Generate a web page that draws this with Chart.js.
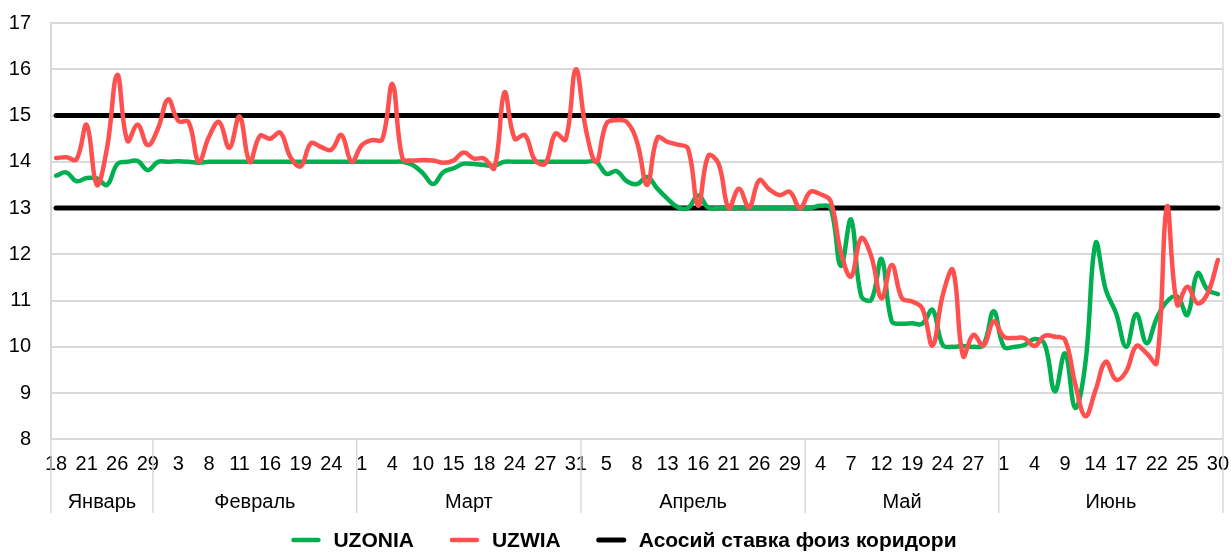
<!DOCTYPE html>
<html lang="ru">
<head>
<meta charset="utf-8">
<title>UZONIA / UZWIA</title>
<script src="https://cdn.jsdelivr.net/npm/chart.js"></script>
<style>
  html, body { margin: 0; padding: 0; background: #fff; }
  #wrap { position: relative; width: 1231px; height: 552px; }
</style>
</head>
<body>
<div id="wrap"><canvas id="rateChart"></canvas></div>
<script>
// Category axis: business days, grouped by month
const months = ['Январь', 'Февраль', 'Март', 'Апрель', 'Май', 'Июнь'];
const monthDays = [
  [18, 19, 20, 21, 22, 25, 26, 27, 28, 29],
  [1, 2, 3, 4, 5, 8, 9, 10, 11, 12, 15, 16, 17, 18, 19, 22, 23, 24, 25, 26],
  [1, 2, 3, 4, 5, 9, 10, 11, 12, 15, 16, 17, 18, 19, 23, 24, 25, 26, 27, 29, 30, 31],
  [1, 2, 5, 6, 7, 8, 9, 12, 13, 14, 15, 16, 19, 20, 21, 22, 23, 26, 27, 28, 29, 30],
  [3, 4, 5, 6, 7, 10, 11, 12, 17, 18, 19, 20, 21, 24, 25, 26, 27, 28, 31],
  [1, 2, 3, 4, 7, 8, 9, 10, 11, 14, 15, 16, 17, 18, 21, 22, 23, 24, 25, 28, 29, 30]
];

// UZONIA, %
const uzonia = [
  13.70, 13.77, 13.58, 13.65, 13.64, 13.50, 13.95, 14.00, 14.02, 13.82,
  14.00, 14.00, 14.01, 14.00, 13.98, 14.00, 14.00, 14.00, 14.00, 14.00,
  14.00, 14.00, 14.00, 14.00, 14.00, 14.00, 14.00, 14.00, 14.00, 14.00,
  14.00, 14.00, 14.00, 14.00, 14.00, 13.93, 13.75, 13.52, 13.78, 13.86,
  13.96, 13.95, 13.93, 13.92, 14.00, 14.00, 14.00, 14.00, 14.00, 14.00,
  14.00, 14.00, 14.00, 14.00, 13.74, 13.80, 13.58, 13.52, 13.67, 13.42,
  13.20, 13.02, 13.00, 13.27, 13.01, 13.00, 13.00, 13.00, 13.00, 13.00,
  13.00, 13.00, 13.00, 13.00, 13.00, 13.05, 13.00, 11.75, 12.75, 11.10,
  11.02, 11.90, 10.55, 10.50, 10.51, 10.50, 10.80, 10.04, 10.00, 10.02,
  10.00, 10.04, 10.77, 10.00, 10.00, 10.04, 10.17, 10.06, 9.04, 9.86,
  8.68, 9.65, 12.24, 11.23, 10.73, 10.00, 10.71, 10.08, 10.62, 10.98,
  11.09, 10.69, 11.59, 11.23, 11.14
];

// UZWIA, %
const uzwia = [
  14.08, 14.10, 14.05, 14.80, 13.50, 14.30, 15.88, 14.45, 14.80, 14.36,
  14.72, 15.35, 14.88, 14.86, 14.00, 14.54, 14.86, 14.30, 14.98, 14.00,
  14.56, 14.50, 14.63, 14.10, 13.90, 14.40, 14.32, 14.26, 14.58, 14.00,
  14.36, 14.47, 14.48, 15.68, 14.07, 14.03, 14.04, 14.03, 13.98, 14.03,
  14.20, 14.07, 14.07, 13.86, 15.50, 14.50, 14.58, 14.03, 13.96, 14.61,
  14.48, 16.00, 14.68, 14.00, 14.83, 14.90, 14.86, 14.43, 13.50, 14.52,
  14.43, 14.37, 14.29, 13.05, 14.13, 13.96, 13.00, 13.42, 13.02, 13.60,
  13.40, 13.28, 13.35, 13.00, 13.35, 13.30, 13.15, 12.05, 11.52, 12.35,
  11.95, 11.05, 11.77, 11.05, 10.98, 10.83, 10.03, 11.12, 11.66, 9.80,
  10.26, 10.03, 10.55, 10.22, 10.19, 10.19, 10.02, 10.24, 10.22, 10.15,
  9.20, 8.50, 9.07, 9.68, 9.29, 9.47, 10.02, 9.86, 9.65, 13.03,
  10.91, 11.30, 10.94, 11.16, 11.88
];

// key rate corridor, %
const corridorLow = 13;
const corridorHigh = 15;

const yMin = 8;
const yMax = 17;

const dayLabels = monthDays.flat().map(String);
const FONT = '"Liberation Sans", Arial, sans-serif';
Chart.defaults.font.family = FONT;
Chart.defaults.color = '#000';

// month names and group separators under the day labels
const monthRow = {
  id: 'monthRow',
  afterDraw(chart) {
    const { ctx, chartArea, scales: { x } } = chart;
    const half = (x.getPixelForValue(1) - x.getPixelForValue(0)) / 2;
    const lineBottom = 513;
    const edges = [];
    let start = 0;

    ctx.save();
    ctx.font = '20px ' + FONT;
    ctx.fillStyle = '#000';
    ctx.textAlign = 'center';
    ctx.textBaseline = 'middle';
    monthDays.forEach((days, m) => {
      const left = x.getPixelForValue(start) - half;
      const right = x.getPixelForValue(start + days.length - 1) + half;
      edges.push(left);
      ctx.fillText(months[m], (left + right) / 2, 502);
      start += days.length;
    });

    ctx.strokeStyle = '#d9d9d9';
    ctx.lineWidth = 1.5;
    edges.forEach(px => {
      ctx.beginPath();
      ctx.moveTo(px, chartArea.bottom);
      ctx.lineTo(px, lineBottom);
      ctx.stroke();
    });
    // right edge of plot area, down through the label rows
    ctx.beginPath();
    ctx.moveTo(chartArea.right, chartArea.top);
    ctx.lineTo(chartArea.right, lineBottom);
    ctx.stroke();
    ctx.restore();
  }
};

// legend row at the bottom (corridor shown once)
const legendRow = {
  id: 'legendRow',
  afterDraw(chart) {
    const { ctx } = chart;
    const items = chart.data.datasets.filter(d => !d.noLegend);
    const swatch = 29, gap = 13, spacing = 36, y = 540;

    ctx.save();
    ctx.font = 'bold 21px ' + FONT;
    ctx.textBaseline = 'middle';
    ctx.textAlign = 'left';
    const widths = items.map(d => swatch + gap + ctx.measureText(d.label).width);
    const total = widths.reduce((a, b) => a + b, 0) + spacing * (items.length - 1);
    let x = 624 - total / 2;

    items.forEach((d, i) => {
      ctx.strokeStyle = d.borderColor;
      ctx.lineWidth = d.borderWidth;
      ctx.lineCap = 'round';
      ctx.beginPath();
      ctx.moveTo(x + 2, y);
      ctx.lineTo(x + swatch - 2, y);
      ctx.stroke();
      ctx.fillStyle = '#000';
      ctx.fillText(d.label, x + swatch + gap, y + 1);
      x += widths[i] + spacing;
    });
    ctx.restore();
  }
};

const lineStyle = {
  pointRadius: 0,
  pointHoverRadius: 0,
  fill: false,
  tension: 0.4,
  borderCapStyle: 'round',
  borderJoinStyle: 'round'
};

new Chart(document.getElementById('rateChart'), {
  type: 'line',
  data: {
    labels: dayLabels,
    datasets: [
      Object.assign({ label: 'UZONIA', data: uzonia, borderColor: '#00B050', borderWidth: 4.5, order: 1 }, lineStyle),
      Object.assign({ label: 'UZWIA', data: uzwia, borderColor: '#FF5050', borderWidth: 4.5, order: 0 }, lineStyle),
      Object.assign({ label: 'Асосий ставка фоиз коридори', data: dayLabels.map(() => corridorHigh), borderColor: '#000', borderWidth: 5, order: 2 }, lineStyle, { tension: 0 }),
      Object.assign({ label: 'Асосий ставка фоиз коридори', data: dayLabels.map(() => corridorLow), borderColor: '#000', borderWidth: 5, order: 3, noLegend: true }, lineStyle, { tension: 0 })
    ]
  },
  options: {
    responsive: true,
    maintainAspectRatio: false,
    animation: false,
    layout: { padding: { top: 23, right: 8, bottom: 0, left: 0 } },
    plugins: {
      legend: { display: false },
      tooltip: { enabled: false }
    },
    scales: {
      x: {
        offset: true,
        grid: { display: false, drawTicks: false },
        border: { display: false },
        ticks: {
          autoSkip: false,
          maxRotation: 0,
          minRotation: 0,
          padding: 13,
          font: { size: 20 },
          color: '#000',
          callback: (value, index) => (index % 3 === 0 ? dayLabels[index] : '')
        },
        afterFit: scale => {
          scale.height = 112.6;
          scale.paddingLeft = 0;
          scale.paddingRight = 0;
        }
      },
      y: {
        min: yMin,
        max: yMax,
        ticks: { stepSize: 1, padding: 20, font: { size: 20 }, color: '#000' },
        grid: { color: '#d9d9d9', lineWidth: 2, drawTicks: false, tickLength: 0 },
        border: { display: true, color: '#d9d9d9', width: 2 },
        afterFit: scale => {
          scale.width = 51;
          scale.paddingTop = 0;
          scale.paddingBottom = 0;
        }
      }
    }
  },
  plugins: [monthRow, legendRow]
});
</script>
</body>
</html>
